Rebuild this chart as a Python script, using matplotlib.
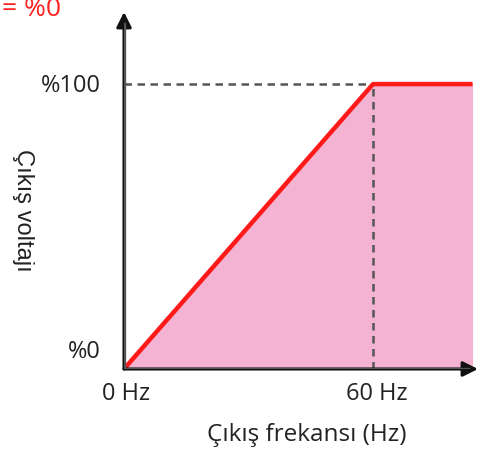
import matplotlib
matplotlib.use("Agg")
import matplotlib.pyplot as plt

# Data (percent output voltage vs output frequency)
freq = [0, 60, 84]
volt = [0, 100, 100]
x_ticks = [0, 60]
x_tick_labels = ["0 Hz", "60 Hz"]
y_ticks = [0, 100]
y_tick_labels = ["%0", "%100"]

W, H = 480, 449
fig = plt.figure(figsize=(W / 100, H / 100), dpi=100)
ax = fig.add_axes([124 / W, 1 - 369 / H, (478 - 124) / W, (369 - 12) / H])
ax.set_xlim(0, 85.3)
ax.set_ylim(0, 125.3)
ax.axis("off")

pink = "#f4b3d3"
axis_col = "#555555"
font = "Open Sans"
fs = 17

ax.fill_between(freq, 0, volt, color=pink, lw=0, zorder=1)
ax.plot(freq, volt, color="#ff1a1a", lw=3.2, solid_capstyle="butt", zorder=4)

# dashed guides
ax.plot([0, 60], [100, 100], ls=(0, (3, 2.2)), color=axis_col, lw=1.8, zorder=3)
ax.plot([60, 60], [0, 100], ls=(0, (3, 2.2)), color=axis_col, lw=1.8, zorder=3)

# axes with arrow heads
ax.annotate("", xy=(85.3, 0), xytext=(0, 0),
            arrowprops=dict(arrowstyle="-|>,head_length=0.9,head_width=0.45",
                            color="#111111", lw=2.2, shrinkA=0, shrinkB=0),
            zorder=5)
ax.annotate("", xy=(0, 125.3), xytext=(0, 0),
            arrowprops=dict(arrowstyle="-|>,head_length=0.9,head_width=0.45",
                            color="#111111", lw=2.2, shrinkA=0, shrinkB=0),
            zorder=5)
ax.plot([0, 83], [0, 0], color=axis_col, lw=2.4, zorder=5)
ax.plot([0, 0], [0, 121], color=axis_col, lw=2.4, zorder=5)

# tick labels, placed in pixel space
xt_px = [126, 377]
for xp, lab in zip(xt_px, x_tick_labels):
    fig.text(xp / W, 1 - 394 / H, lab, ha="center", va="center", fontsize=fs,
             family=font, color="#222222")
yt_py = [352, 86]
for yp, lab in zip(yt_py, y_tick_labels):
    fig.text(101 / W, 1 - yp / H, lab, ha="right", va="center", fontsize=fs,
             family=font, color="#222222")

fig.text(307 / W, 1 - 435 / H, "Çıkış frekansı (Hz)", ha="center", va="center",
         fontsize=17.5, family=font, color="#222222")
fig.text(23 / W, 1 - 210 / H, "Çıkış voltajı", ha="center", va="center",
         rotation=-90, fontsize=17, family="Liberation Sans", color="#222222")
fig.text(61 / W, 1 - 9 / H, "= %0", ha="right", va="center", fontsize=19,
         family=font, color="#ff2020")

fig.savefig("out.png", dpi=100)
